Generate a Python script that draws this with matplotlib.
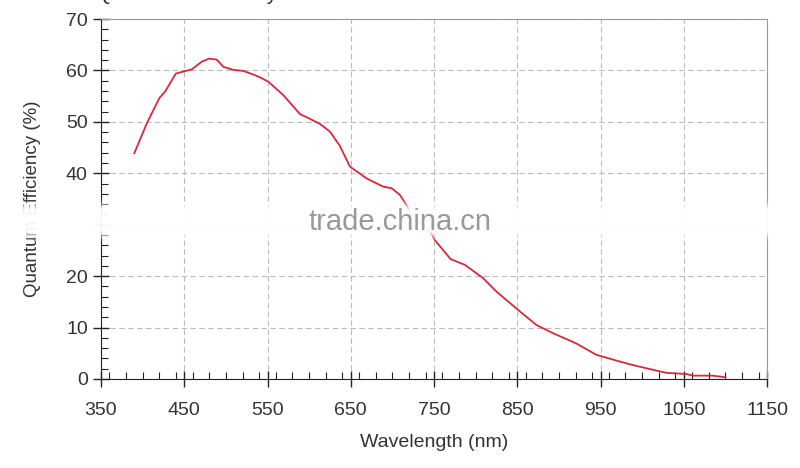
import matplotlib
matplotlib.use("Agg")
import matplotlib.pyplot as plt
import numpy as np
from matplotlib.ticker import MultipleLocator

plt.rcParams['font.family'] = ['Liberation Sans', 'DejaVu Sans']

# quantum efficiency curve
wavelength = [390, 405, 420, 427, 440, 459, 471, 480, 489, 497, 509, 521, 533, 543,
              551, 569, 589, 597, 613, 625, 637, 649, 669, 689, 699, 709, 717, 724,
              735, 745, 751, 770, 787, 809, 825, 849, 873, 893, 921, 945, 973, 989,
              1010, 1029, 1053, 1061, 1085, 1100]
qe = [43.9, 49.7, 54.6, 55.9, 59.4, 60.2, 61.7, 62.3, 62.1, 60.7, 60.1, 59.9, 59.2, 58.5,
      57.8, 55.2, 51.5, 50.9, 49.6, 48.1, 45.3, 41.3, 39.0, 37.4, 37.1, 35.8, 33.8, 31.8,
      30.2, 28.8, 27.0, 23.3, 22.2, 19.6, 17.0, 13.7, 10.5, 8.9, 6.9, 4.7, 3.4, 2.7,
      1.9, 1.2, 0.97, 0.65, 0.65, 0.33]

x_ticks = [350, 450, 550, 650, 750, 850, 950, 1050, 1150]
y_ticks = [0, 10, 20, 30, 40, 50, 60, 70]
y_ticklabels = ['0', '10', '20', '', '40', '50', '60', '70']

fig = plt.figure(figsize=(8, 4.68), dpi=100)
ax = fig.add_axes([0.12625, 0.1902, 0.8325, 0.7692])

ax.plot(wavelength, qe, color='#d8283c', lw=1.3, zorder=3)

ax.set_xlim(350, 1150)
ax.set_ylim(0, 70)
ax.set_xticks(x_ticks)
ax.set_yticks(y_ticks)
ax.set_yticklabels(y_ticklabels)
ax.xaxis.set_minor_locator(MultipleLocator(20))
ax.yaxis.set_minor_locator(MultipleLocator(2))

ax.tick_params(which='major', direction='inout', length=11, width=1,
               labelsize=14, labelcolor='#333333', color='#222222')
ax.tick_params(which='minor', direction='in', length=5, width=0.8, color='#222222')
ax.tick_params(axis='x', pad=11)
ax.tick_params(axis='y', pad=4)

ax.grid(True, which='major', color='#bbbbbb', linestyle=(0, (5, 3)), lw=0.8)
for s in ['top', 'right']:
    ax.spines[s].set_color('#999999')
for s in ['left', 'bottom']:
    ax.spines[s].set_color('#222222')

ax.set_xlabel('Wavelength (nm)', fontsize=14, color='#333333', labelpad=11)
ax.set_ylabel('Quantum Efficiency (%)', fontsize=13.5, color='#333333')
ax.yaxis.set_label_coords(-0.09, 0.5)

# clipped title at the very top of the picture
fig.text(0.12, 1.012, 'Quantum Efficiency', fontsize=15, color='#333333',
         va='center', ha='left')

# watermark: soft white band across the figure, then the text
overlay = fig.add_axes([0, 0, 1, 1], zorder=10)
overlay.set_axis_off()
rows = np.arange(468)
alpha = np.clip(1.15 * np.exp(-((rows - 220) / 16.0) ** 4), 0, 0.95)
band = np.ones((468, 1, 4))
band[:, 0, 3] = alpha
overlay.imshow(band, aspect='auto', extent=(0, 1, 0, 1), origin='upper')
overlay.set_xlim(0, 1)
overlay.set_ylim(0, 1)
overlay.text(0.5, 1 - 222 / 468, 'trade.china.cn', fontsize=21, color='#999999',
             ha='center', va='center')

fig.savefig('out.png', dpi=100)
